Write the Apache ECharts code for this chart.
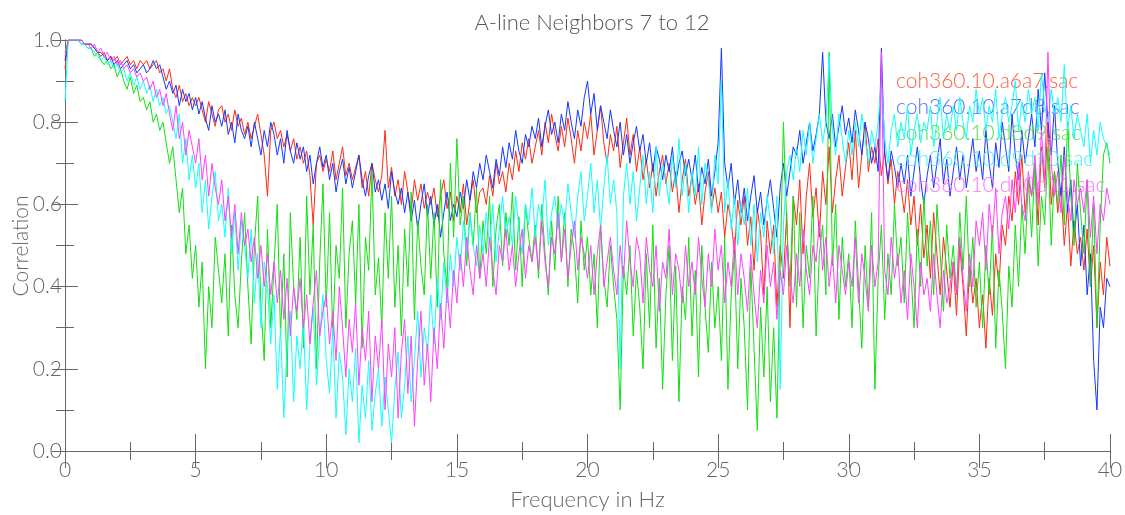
<!DOCTYPE html>
<html><head><meta charset="utf-8">
<script src="https://cdn.jsdelivr.net/npm/echarts@6/dist/echarts.min.js"></script>
<style>html,body{margin:0;padding:0;background:#fff}#c{width:1125px;height:515px}</style>
</head><body><div id="c"></div>
<script>
const TITLE = 'A-line Neighbors 7 to 12';
const X_NAME = 'Frequency in Hz';
const Y_NAME = 'Correlation';
const FREQ_STEP = 0.125;
const SERIES_NAMES = ['coh360.10.a6a7.sac','coh360.10.a7d8.sac','coh360.10.d8d9.sac','coh360.10.d9d10.sac','coh360.10.d10d11.sac'];
const X_TICKS = [0,5,10,15,20,25,30,35,40];
const Y_TICKS = ['0.0','0.2','0.4','0.6','0.8','1.0'];

const red = [
0.93,1.00,1.00,1.00,1.00,1.00,0.99,0.99,
0.99,0.98,0.97,0.96,0.97,0.95,0.96,0.95,
0.96,0.94,0.95,0.96,0.94,0.95,0.93,0.95,
0.94,0.95,0.93,0.94,0.95,0.92,0.93,0.90,
0.93,0.88,0.86,0.89,0.85,0.87,0.84,0.86,
0.84,0.86,0.83,0.80,0.85,0.82,0.79,0.83,
0.84,0.80,0.82,0.78,0.83,0.79,0.81,0.77,
0.80,0.76,0.79,0.82,0.77,0.72,0.62,0.78,
0.80,0.76,0.78,0.74,0.77,0.73,0.76,0.71,
0.74,0.70,0.73,0.67,0.55,0.70,0.72,0.68,
0.71,0.68,0.73,0.66,0.70,0.74,0.67,0.70,
0.66,0.69,0.72,0.64,0.68,0.62,0.70,0.66,
0.63,0.67,0.78,0.64,0.69,0.62,0.66,0.60,
0.68,0.63,0.58,0.66,0.61,0.65,0.59,0.63,
0.60,0.64,0.57,0.62,0.66,0.59,0.63,0.56,
0.62,0.58,0.65,0.55,0.61,0.66,0.58,0.63,
0.64,0.60,0.67,0.62,0.70,0.65,0.68,0.63,
0.70,0.66,0.73,0.68,0.75,0.71,0.76,0.70,
0.74,0.78,0.72,0.80,0.75,0.82,0.77,0.73,
0.79,0.74,0.81,0.76,0.70,0.78,0.73,0.80,
0.76,0.82,0.72,0.78,0.84,0.75,0.70,0.77,
0.73,0.79,0.69,0.75,0.81,0.72,0.77,0.68,
0.74,0.66,0.71,0.64,0.70,0.62,0.68,0.72,
0.65,0.70,0.63,0.68,0.58,0.66,0.71,0.62,
0.67,0.60,0.65,0.55,0.63,0.68,0.59,0.64,
0.58,0.63,0.52,0.60,0.56,0.48,0.61,0.55,
0.62,0.50,0.57,0.44,0.59,0.53,0.38,0.56,
0.48,0.55,0.35,0.50,0.42,0.58,0.30,0.62,
0.55,0.66,0.48,0.62,0.70,0.57,0.64,0.52,
0.68,0.60,0.74,0.58,0.66,0.72,0.62,0.69,
0.75,0.66,0.78,0.64,0.72,0.80,0.68,0.74,
0.70,0.76,0.67,0.73,0.65,0.71,0.60,0.68,
0.64,0.58,0.66,0.55,0.62,0.50,0.60,0.47,
0.55,0.42,0.58,0.48,0.38,0.52,0.44,0.35,
0.46,0.33,0.50,0.40,0.28,0.45,0.36,0.42,
0.30,0.38,0.25,0.42,0.33,0.48,0.40,0.55,
0.50,0.62,0.56,0.68,0.60,0.72,0.58,0.66,
0.62,0.70,0.55,0.74,0.64,0.80,0.60,0.68,
0.58,0.64,0.50,0.60,0.45,0.56,0.48,0.52,
0.44,0.54,0.40,0.50,0.30,0.46,0.38,0.52,
0.45];

const blue = [
0.95,1.00,1.00,1.00,1.00,1.00,0.99,0.99,
0.99,0.98,0.97,0.97,0.96,0.95,0.96,0.94,
0.95,0.93,0.94,0.95,0.93,0.94,0.92,0.93,
0.94,0.92,0.93,0.95,0.93,0.94,0.91,0.88,
0.90,0.87,0.89,0.84,0.88,0.85,0.87,0.83,
0.86,0.82,0.85,0.81,0.78,0.84,0.80,0.82,
0.79,0.83,0.77,0.80,0.75,0.82,0.78,0.76,
0.79,0.74,0.80,0.76,0.72,0.78,0.74,0.80,
0.77,0.72,0.76,0.70,0.78,0.73,0.70,0.75,
0.71,0.74,0.68,0.72,0.65,0.70,0.74,0.69,
0.72,0.66,0.70,0.63,0.68,0.71,0.65,0.69,
0.64,0.68,0.72,0.66,0.62,0.67,0.70,0.63,
0.66,0.61,0.65,0.59,0.68,0.63,0.60,0.64,
0.58,0.63,0.56,0.61,0.54,0.60,0.65,0.57,
0.62,0.55,0.60,0.52,0.58,0.63,0.56,0.60,
0.57,0.63,0.59,0.66,0.61,0.68,0.64,0.70,
0.66,0.72,0.68,0.64,0.71,0.67,0.74,0.69,
0.75,0.71,0.78,0.73,0.70,0.77,0.74,0.79,
0.76,0.81,0.74,0.79,0.83,0.77,0.80,0.75,
0.82,0.78,0.85,0.80,0.76,0.83,0.79,0.86,
0.90,0.82,0.87,0.78,0.84,0.80,0.76,0.83,
0.78,0.74,0.80,0.72,0.77,0.70,0.75,0.79,
0.73,0.77,0.70,0.75,0.68,0.74,0.71,0.66,
0.72,0.68,0.74,0.65,0.70,0.73,0.67,0.71,
0.66,0.72,0.63,0.69,0.65,0.71,0.62,0.68,
0.75,0.98,0.70,0.64,0.70,0.60,0.66,0.58,
0.64,0.56,0.62,0.67,0.58,0.63,0.55,0.61,
0.66,0.59,0.52,0.64,0.70,0.62,0.68,0.74,
0.72,0.78,0.70,0.75,0.80,0.73,0.77,0.82,
0.97,0.80,0.76,0.82,0.74,0.79,0.84,0.77,
0.81,0.75,0.83,0.78,0.72,0.80,0.76,0.70,
0.74,0.68,0.98,0.72,0.66,0.73,0.69,0.64,
0.70,0.65,0.72,0.62,0.68,0.74,0.66,0.60,
0.67,0.72,0.64,0.70,0.76,0.65,0.71,0.62,
0.68,0.74,0.66,0.72,0.64,0.70,0.76,0.68,
0.73,0.66,0.78,0.70,0.64,0.75,0.69,0.80,
0.74,0.68,0.82,0.72,0.66,0.78,0.70,0.76,
0.82,0.74,0.88,0.78,0.92,0.80,0.72,0.84,
0.70,0.62,0.74,0.58,0.66,0.52,0.60,0.45,
0.55,0.38,0.48,0.22,0.10,0.35,0.30,0.42,
0.40];

const green = [
0.97,1.00,1.00,1.00,1.00,0.99,0.99,0.98,
0.98,0.96,0.97,0.95,0.94,0.95,0.93,0.94,
0.91,0.93,0.90,0.88,0.91,0.87,0.89,0.85,
0.86,0.83,0.85,0.80,0.82,0.78,0.80,0.75,
0.70,0.74,0.66,0.58,0.64,0.48,0.55,0.42,
0.50,0.35,0.46,0.20,0.40,0.30,0.52,0.44,
0.36,0.48,0.28,0.55,0.38,0.30,0.46,0.58,
0.40,0.26,0.50,0.62,0.35,0.22,0.54,0.30,
0.45,0.60,0.28,0.48,0.18,0.58,0.40,0.32,
0.52,0.25,0.62,0.38,0.55,0.20,0.46,0.65,
0.35,0.58,0.28,0.50,0.42,0.64,0.30,0.48,
0.56,0.36,0.60,0.25,0.52,0.44,0.68,0.38,
0.47,0.30,0.58,0.42,0.62,0.35,0.50,0.28,
0.54,0.40,0.63,0.32,0.56,0.45,0.38,0.60,
0.42,0.58,0.35,0.66,0.48,0.40,0.70,0.52,
0.76,0.55,0.62,0.45,0.58,0.50,0.64,0.42,
0.56,0.48,0.62,0.40,0.54,0.60,0.45,0.58,
0.50,0.63,0.44,0.57,0.40,0.60,0.52,0.46,
0.55,0.42,0.60,0.48,0.38,0.56,0.44,0.62,
0.46,0.58,0.40,0.54,0.48,0.36,0.56,0.44,
0.52,0.38,0.48,0.30,0.55,0.42,0.35,0.50,
0.40,0.32,0.10,0.45,0.38,0.50,0.28,0.44,
0.35,0.20,0.48,0.30,0.55,0.25,0.42,0.15,
0.38,0.50,0.22,0.45,0.12,0.40,0.32,0.52,
0.28,0.44,0.18,0.50,0.35,0.24,0.46,0.30,
0.40,0.22,0.52,0.15,0.38,0.48,0.20,0.42,
0.30,0.10,0.45,0.25,0.05,0.35,0.18,0.40,
0.12,0.30,0.08,0.45,0.80,0.55,0.40,0.62,
0.35,0.58,0.30,0.50,0.42,0.62,0.28,0.48,
0.55,0.38,0.97,0.45,0.60,0.32,0.52,0.40,
0.48,0.30,0.56,0.40,0.25,0.50,0.35,0.58,
0.15,0.42,0.55,0.32,0.48,0.38,0.60,0.45,
0.52,0.36,0.58,0.44,0.30,0.54,0.40,0.62,
0.45,0.56,0.38,0.60,0.48,0.34,0.55,0.42,
0.50,0.38,0.58,0.44,0.62,0.40,0.52,0.35,
0.46,0.30,0.50,0.38,0.55,0.25,0.44,0.34,
0.20,0.45,0.35,0.55,0.40,0.60,0.48,0.66,
0.52,0.70,0.45,0.62,0.55,0.74,0.50,0.68,
0.60,0.72,0.55,0.80,0.62,0.50,0.70,0.58,
0.48,0.66,0.40,0.60,0.30,0.55,0.72,0.75,
0.70];

const cyan = [
0.85,1.00,1.00,1.00,1.00,0.99,0.99,0.98,
0.98,0.97,0.96,0.95,0.96,0.94,0.95,0.93,
0.94,0.92,0.93,0.90,0.92,0.89,0.91,0.88,
0.90,0.87,0.89,0.85,0.88,0.84,0.86,0.82,
0.84,0.80,0.76,0.82,0.70,0.76,0.66,0.72,
0.64,0.70,0.58,0.66,0.54,0.62,0.68,0.56,
0.60,0.52,0.64,0.48,0.58,0.44,0.56,0.50,
0.42,0.54,0.36,0.48,0.30,0.46,0.40,0.26,
0.38,0.15,0.30,0.08,0.25,0.34,0.12,0.28,
0.20,0.32,0.10,0.26,0.35,0.16,0.28,0.38,
0.22,0.14,0.30,0.08,0.24,0.18,0.04,0.20,
0.12,0.25,0.02,0.16,0.08,0.22,0.05,0.14,
0.20,0.06,0.18,0.10,0.02,0.15,0.24,0.08,
0.16,0.28,0.12,0.22,0.34,0.18,0.30,0.24,
0.38,0.26,0.42,0.32,0.46,0.36,0.48,0.40,
0.52,0.44,0.56,0.48,0.58,0.50,0.45,0.55,
0.48,0.58,0.50,0.60,0.46,0.54,0.62,0.52,
0.57,0.50,0.62,0.54,0.48,0.60,0.55,0.64,
0.52,0.60,0.56,0.66,0.50,0.58,0.62,0.54,
0.60,0.55,0.65,0.58,0.52,0.62,0.68,0.56,
0.62,0.70,0.58,0.66,0.54,0.64,0.72,0.60,
0.66,0.58,0.20,0.62,0.70,0.60,0.68,0.56,
0.64,0.72,0.60,0.68,0.58,0.74,0.62,0.70,
0.66,0.60,0.72,0.64,0.76,0.62,0.70,0.58,
0.68,0.62,0.74,0.60,0.70,0.66,0.58,0.72,
0.65,0.90,0.58,0.66,0.54,0.62,0.50,0.60,
0.55,0.64,0.50,0.60,0.46,0.58,0.52,0.62,
0.56,0.48,0.62,0.15,0.55,0.68,0.72,0.66,
0.74,0.68,0.78,0.72,0.80,0.70,0.76,0.82,
0.75,0.80,0.96,0.78,0.72,0.82,0.76,0.70,
0.78,0.72,0.80,0.74,0.82,0.76,0.70,0.78,
0.74,0.80,0.90,0.76,0.70,0.78,0.82,0.74,
0.80,0.76,0.84,0.72,0.78,0.82,0.75,0.80,
0.78,0.84,0.74,0.80,0.86,0.76,0.82,0.78,
0.84,0.78,0.86,0.80,0.76,0.84,0.80,0.88,
0.82,0.86,0.78,0.84,0.80,0.88,0.76,0.82,
0.86,0.80,0.84,0.90,0.78,0.85,0.80,0.88,
0.82,0.86,0.78,0.92,0.84,0.80,0.88,0.82,
0.86,0.80,0.94,0.78,0.84,0.76,0.82,0.78,
0.74,0.82,0.70,0.78,0.72,0.80,0.76,0.74,
0.72];

const magenta = [
0.96,1.00,1.00,1.00,1.00,1.00,0.99,0.99,
0.98,0.99,0.97,0.98,0.96,0.97,0.95,0.96,
0.94,0.95,0.93,0.94,0.92,0.93,0.91,0.92,
0.90,0.91,0.88,0.90,0.86,0.88,0.84,0.87,
0.82,0.78,0.84,0.76,0.80,0.72,0.78,0.74,
0.70,0.76,0.66,0.72,0.62,0.70,0.64,0.60,
0.66,0.56,0.62,0.52,0.60,0.48,0.58,0.50,
0.54,0.46,0.52,0.42,0.50,0.40,0.48,0.38,
0.46,0.36,0.44,0.32,0.42,0.28,0.40,0.34,
0.42,0.30,0.38,0.26,0.36,0.44,0.28,0.34,
0.38,0.26,0.34,0.22,0.40,0.30,0.18,0.32,
0.24,0.36,0.16,0.30,0.22,0.34,0.12,0.28,
0.20,0.32,0.10,0.26,0.18,0.30,0.08,0.24,
0.32,0.14,0.28,0.06,0.22,0.34,0.16,0.26,
0.12,0.30,0.20,0.36,0.25,0.40,0.30,0.44,
0.36,0.48,0.40,0.52,0.44,0.38,0.50,0.42,
0.48,0.40,0.52,0.44,0.38,0.50,0.46,0.54,
0.44,0.50,0.40,0.48,0.54,0.42,0.50,0.46,
0.52,0.44,0.56,0.46,0.40,0.52,0.48,0.58,
0.46,0.54,0.42,0.50,0.56,0.44,0.52,0.48,
0.42,0.50,0.38,0.48,0.55,0.40,0.46,0.52,
0.44,0.38,0.50,0.42,0.56,0.46,0.40,0.52,
0.48,0.36,0.52,0.44,0.40,0.50,0.34,0.46,
0.42,0.54,0.38,0.48,0.44,0.36,0.50,0.40,
0.46,0.38,0.52,0.42,0.35,0.48,0.40,0.54,
0.44,0.50,0.36,0.46,0.40,0.52,0.38,0.48,
0.42,0.34,0.48,0.38,0.30,0.44,0.36,0.50,
0.40,0.46,0.32,0.44,0.38,0.50,0.42,0.36,
0.48,0.40,0.54,0.44,0.38,0.50,0.46,0.56,
0.44,0.52,0.40,0.48,0.36,0.50,0.44,0.38,
0.46,0.40,0.52,0.36,0.48,0.42,0.34,0.50,
0.40,0.46,0.97,0.44,0.38,0.52,0.42,0.48,
0.36,0.44,0.32,0.48,0.40,0.30,0.46,0.38,
0.42,0.34,0.48,0.38,0.30,0.44,0.36,0.40,
0.46,0.38,0.52,0.42,0.34,0.48,0.40,0.56,
0.50,0.58,0.44,0.60,0.52,0.64,0.48,0.58,
0.62,0.54,0.66,0.58,0.70,0.60,0.56,0.68,
0.62,0.72,0.60,0.78,0.66,0.97,0.70,0.62,
0.68,0.58,0.72,0.62,0.56,0.66,0.60,0.64,
0.58,0.66,0.52,0.62,0.48,0.60,0.56,0.64,
0.60];

const LINE_COLORS = ['#ff2a10','#1438ff','#10e010','#10ffff','#ff40ff'];
const TEXT_COLORS = ['#ff6040','#5070ff','#50e050','#50f0f0','#ff70ff'];
const VALUES = [red, blue, green, cyan, magenta];

const FONT = "Lato,'DejaVu Sans Condensed',sans-serif";
const FW = 300;
const AX = '#666';

function pairs(arr){ return arr.map((v,i)=>[i*FREQ_STEP, v]); }

const chart = echarts.init(document.getElementById('c'), null, {renderer:'canvas'});
const baseX = {
  type:'value', min:0, max:40, interval:5,
  axisLine:{show:true, lineStyle:{color:AX, width:1}},
  axisTick:{show:true, inside:true, length:17, lineStyle:{color:AX}},
  minorTick:{show:true, splitNumber:2, length:9, lineStyle:{color:AX}},
  splitLine:{show:false}, minorSplitLine:{show:false}
};
const baseY = {
  type:'value', min:0, max:1, interval:0.2,
  axisLine:{show:true, lineStyle:{color:AX, width:1}},
  axisTick:{show:true, inside:true, length:13, lineStyle:{color:AX}},
  minorTick:{show:true, splitNumber:2, length:9, lineStyle:{color:AX}},
  splitLine:{show:false}, minorSplitLine:{show:false}
};
chart.setOption({
  animation:false,
  backgroundColor:'#fff',
  title:{text:TITLE, left:587, top:7, textAlign:'center',
    textStyle:{fontFamily:FONT, fontWeight:FW, fontSize:22, color:'#555'}},
  legend:{
    orient:'vertical', left:886, top:66, icon:'none', itemWidth:0, itemHeight:20, itemGap:5,
    selectedMode:false,
    data: SERIES_NAMES.map((n,i)=>({name:n, textStyle:{color:TEXT_COLORS[i]}})),
    textStyle:{fontFamily:FONT, fontWeight:FW, fontSize:21, padding:0}
  },
  graphic:[{
    type:'text', x:21, y:246, rotation:Math.PI/2, silent:true,
    style:{text:Y_NAME, fill:'#666', font:FW+' 21px '+FONT, align:'center', verticalAlign:'middle'}
  }],
  grid:{left:65, right:15, top:40, bottom:64, containLabel:false, outerBoundsMode:'none'},
  xAxis:[
    Object.assign({}, baseX, {position:'bottom', name:X_NAME, nameLocation:'middle', nameGap:38,
      nameTextStyle:{fontFamily:FONT, fontWeight:FW, fontSize:22, color:'#666'},
      axisLabel:{show:true, margin:9, fontFamily:FONT, fontWeight:FW, fontSize:21, color:'#666',
        formatter:v=>X_TICKS.includes(v)?String(v):''}}),
    Object.assign({}, baseX, {position:'top', axisLabel:{show:false}})
  ],
  yAxis:[
    Object.assign({}, baseY, {position:'left',
      axisLabel:{show:true, margin:3, fontFamily:FONT, fontWeight:FW, fontSize:21, color:'#666',
        formatter:v=>Y_TICKS[Math.round(v*5)]}}),
    Object.assign({}, baseY, {position:'right', axisLabel:{show:false}})
  ],
  series: VALUES.map((arr,i)=>({
    name:SERIES_NAMES[i], type:'line', data:pairs(arr), showSymbol:false, symbol:'none',
    sampling:null, lineStyle:{color:LINE_COLORS[i], width:1}, itemStyle:{color:LINE_COLORS[i]},
    emphasis:{disabled:true}, z:2+i, clip:true
  }))
});
</script></body></html>
